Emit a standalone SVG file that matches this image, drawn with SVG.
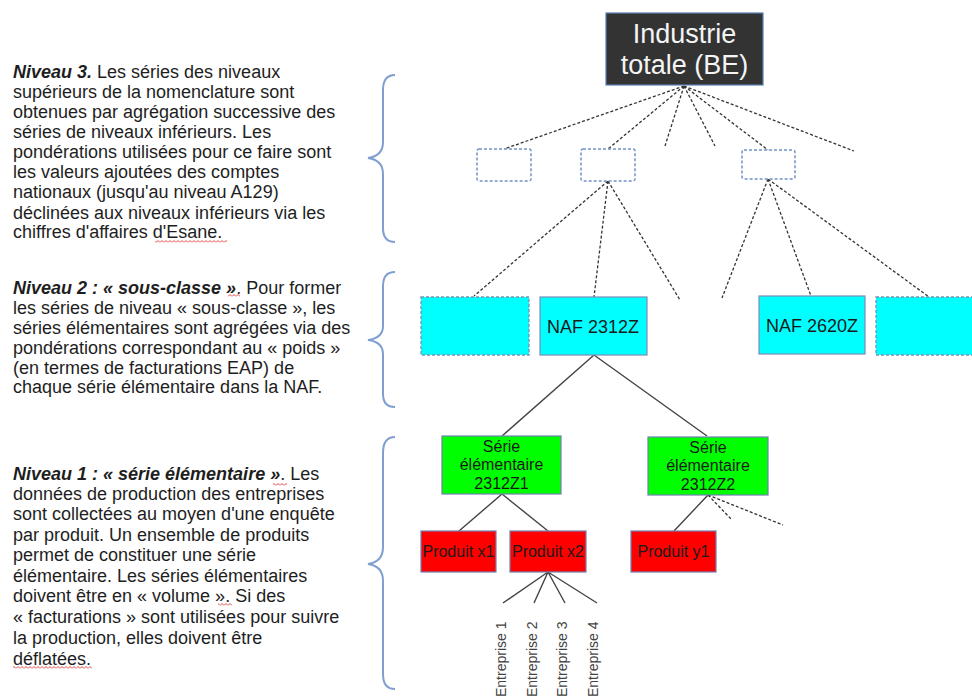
<svg xmlns="http://www.w3.org/2000/svg" width="972" height="698" viewBox="0 0 972 698">
<defs>
<pattern id="wave" width="4" height="3" patternUnits="userSpaceOnUse"><path d="M0,2.5 L2,0.5 L4,2.5" stroke="#e53030" fill="none" stroke-width="0.9"/></pattern>
</defs>
<style>
.txt{font-family:"Liberation Sans",Arial,sans-serif;font-size:18px;fill:#1e1e1e}
.b{font-weight:bold;font-style:italic}
.brace{fill:none;stroke:#7f9fd0;stroke-width:2}
.dash3{fill:#ffffff;stroke:#7393c8;stroke-width:1.5;stroke-dasharray:3 2}
.cyan{fill:#00ffff;stroke:#7d8bb5;stroke-width:1.2}
.cyand{fill:#00ffff;stroke:#8090b0;stroke-width:1.3;stroke-dasharray:3 2}
.green{fill:#00ff00;stroke:#7080b0;stroke-width:1.2}
.red{fill:#ff0000;stroke:#7080b0;stroke-width:1.2}
.lbl{font-family:"Liberation Sans",Arial,sans-serif;fill:#1a1a1a;text-anchor:middle}
.dl{stroke:#333;stroke-width:1.3;stroke-dasharray:3 2;fill:none}
.sl{stroke:#444;stroke-width:1.4;fill:none}
.ent{font-family:"Liberation Sans",Arial,sans-serif;font-size:14px;fill:#444}
</style>

<g id="text-niveau3" class="txt">
<text x="13" y="78"><tspan class="b">Niveau 3.</tspan> Les séries des niveaux</text>
<text x="13" y="98">supérieurs de la nomenclature sont</text>
<text x="13" y="118">obtenues par agrégation successive des</text>
<text x="13" y="138">séries de niveaux inférieurs. Les</text>
<text x="13" y="158">pondérations utilisées pour ce faire sont</text>
<text x="13" y="178">les valeurs ajoutées des comptes</text>
<text x="13" y="198">nationaux (jusqu'au niveau A129)</text>
<text x="13" y="219">déclinées aux niveaux inférieurs via les</text>
<text x="13" y="238">chiffres d'affaires d'Esane.</text>
</g>
<g id="text-niveau2" class="txt">
<text x="13" y="294"><tspan class="b">Niveau 2 : « sous-classe »</tspan>. Pour former</text>
<text x="13" y="314">les séries de niveau « sous-classe », les</text>
<text x="13" y="334">séries élémentaires sont agrégées via des</text>
<text x="13" y="354">pondérations correspondant au « poids »</text>
<text x="13" y="374">(en termes de facturations EAP) de</text>
<text x="13" y="393">chaque série élémentaire dans la NAF.</text>
</g>
<g id="text-niveau1" class="txt">
<text x="13" y="480"><tspan class="b">Niveau 1 : « série élémentaire »</tspan>. Les</text>
<text x="13" y="500">données de production des entreprises</text>
<text x="13" y="520">sont collectées au moyen d'une enquête</text>
<text x="13" y="541">par produit. Un ensemble de produits</text>
<text x="13" y="561">permet de constituer une série</text>
<text x="13" y="582">élémentaire. Les séries élémentaires</text>
<text x="13" y="602">doivent être en « volume ». Si des</text>
<text x="13" y="623">« facturations » sont utilisées pour suivre</text>
<text x="13" y="644">la production, elles doivent être</text>
<text x="13" y="665">déflatées.</text>
</g>
<g id="spellcheck">
<rect x="155" y="240" width="72" height="3" fill="url(#wave)"/>
<rect x="228" y="294" width="12" height="3" fill="url(#wave)"/>
<rect x="273" y="483" width="14" height="3" fill="url(#wave)"/>
<rect x="218" y="603" width="14" height="3" fill="url(#wave)"/>
<rect x="13" y="666" width="79" height="3" fill="url(#wave)"/>
</g>

<g id="braces" class="brace">
<path d="M395,75 Q383,75 383,90 L383,142 Q383,156 368,158 Q383,160 383,174 L383,228 Q383,242 395,242"/>
<path d="M395,272 Q383,272 383,286 L383,326 Q383,338 368,340 Q383,342 383,354 L383,394 Q383,407 395,407"/>
<path d="M395,437 Q383,437 383,453 L383,547 Q383,562 368,564 Q383,566 383,581 L383,674 Q383,689 395,689"/>
</g>

<g id="connectors">
<path class="dl" d="M684,86 L504,149 M684,86 L608,149 M684,86 L665,146 M684,86 L715,146 M684,86 L768,150 M684,86 L854,151"/>
<path class="dl" d="M608,181 L474,296 M608,181 L594,297 M608,181 L680,300 M768,179 L722,298 M768,179 L811,296 M768,179 L929,297"/>
<path class="sl" d="M594,355 L502,436 M594,355 L707,436 M502,494 L459,531 M502,494 L548,531 M708,495 L674,531 M548,572 L503,603 M548,572 L534,603 M548,572 L565,603 M548,572 L597,603"/>
<path class="dl" d="M708,495 L732,520 M708,495 L783,525"/>
</g>

<g id="node-industrie">
<rect x="606" y="13" width="157" height="72" fill="#333333" stroke="#5b7fb5" stroke-width="1.2"/>
<text class="lbl" x="684.5" y="43" font-size="27" style="fill:#f4f4f4">Industrie</text>
<text class="lbl" x="684.5" y="74" font-size="27" style="fill:#f4f4f4">totale (BE)</text>
</g>
<g id="node-l3a"><rect class="dash3" x="477" y="149" width="54" height="32" rx="2"/></g>
<g id="node-l3b"><rect class="dash3" x="581" y="149" width="54" height="32" rx="2"/></g>
<g id="node-l3c"><rect class="dash3" x="742" y="150" width="53" height="29" rx="2"/></g>

<g id="node-cyan-a"><rect class="cyand" x="421" y="297" width="108" height="58"/></g>
<g id="node-naf2312z">
<rect class="cyan" x="540" y="297" width="107" height="58"/>
<text class="lbl" x="593" y="333" font-size="18">NAF 2312Z</text>
</g>
<g id="node-naf2620z">
<rect class="cyan" x="759" y="296" width="106" height="58"/>
<text class="lbl" x="812" y="332" font-size="18">NAF 2620Z</text>
</g>
<g id="node-cyan-b"><rect class="cyand" x="876" y="297" width="100" height="58"/></g>

<g id="node-serie1">
<rect class="green" x="442" y="436" width="119" height="58"/>
<text class="lbl" x="501.5" y="452" font-size="16">Série</text>
<text class="lbl" x="501.5" y="470" font-size="16">élémentaire</text>
<text class="lbl" x="501.5" y="489" font-size="16">2312Z1</text>
</g>
<g id="node-serie2">
<rect class="green" x="648" y="437" width="120" height="58"/>
<text class="lbl" x="708" y="453" font-size="16">Série</text>
<text class="lbl" x="708" y="471" font-size="16">élémentaire</text>
<text class="lbl" x="708" y="490" font-size="16">2312Z2</text>
</g>
<g id="node-produit-x1">
<rect class="red" x="421" y="531" width="75" height="41"/>
<text class="lbl" x="458.5" y="557" font-size="16">Produit x1</text>
</g>
<g id="node-produit-x2">
<rect class="red" x="510" y="531" width="76" height="41"/>
<text class="lbl" x="548" y="557" font-size="16">Produit x2</text>
</g>
<g id="node-produit-y1">
<rect class="red" x="631" y="531" width="85" height="41"/>
<text class="lbl" x="673.5" y="557" font-size="16">Produit y1</text>
</g>

<g id="entreprises" class="ent">
<text transform="translate(506,697) rotate(-90)">Entreprise 1</text>
<text transform="translate(537,697) rotate(-90)">Entreprise 2</text>
<text transform="translate(567,697) rotate(-90)">Entreprise 3</text>
<text transform="translate(598,697) rotate(-90)">Entreprise 4</text>
</g>
</svg>
